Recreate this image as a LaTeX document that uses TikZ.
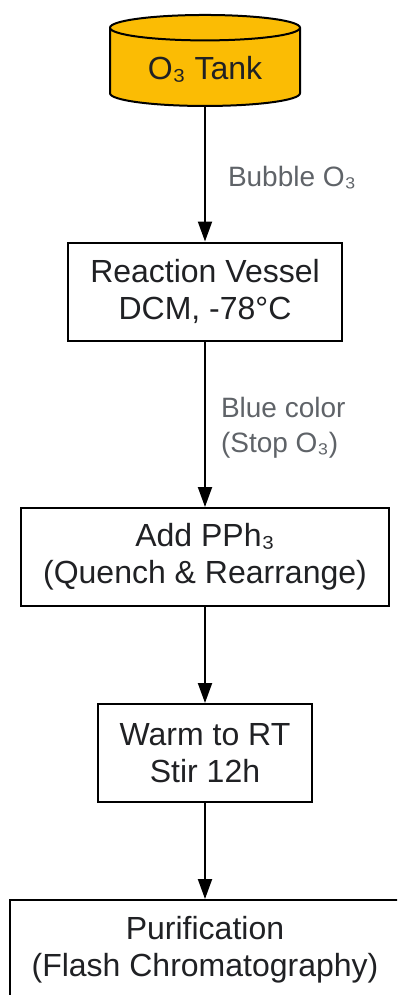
\documentclass[tikz,border=0pt]{standalone}
\usepackage{fontspec}
\setmainfont{Liberation Sans}
\usetikzlibrary{shapes.geometric,arrows.meta,positioning}
\definecolor{tankfill}{HTML}{FBBC04}
\definecolor{stepink}{HTML}{202124}
\definecolor{labelink}{HTML}{5F6368}

\begin{document}
\begin{tikzpicture}[x=1pt,y=1pt,node distance=2cm,on grid,
    stage/.style={draw,line width=2pt,fill=white,inner xsep=22pt,minimum height=98pt,
      align=center,text=stepink,font=\fontsize{32}{37}\selectfont},
    tank/.style={cylinder,shape border rotate=90,aspect=0.21,draw,line width=2pt,
      fill=tankfill,minimum width=190pt,minimum height=91pt,text=stepink,
      font=\fontsize{32}{37}\selectfont},
    flow/.style={-{Triangle[length=20pt,width=14pt]},line width=2pt},
    note/.style={right=18pt,yshift=-3.5pt,inner sep=0pt,align=left,text=labelink,
      font=\fontsize{28}{35}\selectfont}]
  \useasboundingbox[clip] (0,0) rectangle (397,-995);
  \node[tank] (tank) at (205,-69) {O₃ Tank};
  \node[stage] (vessel) [below=222.5pt of tank] {Reaction Vessel\\DCM, -78°C};
  \node[stage] (quench) [below=265.5pt of vessel] {Add PPh₃\\(Quench \& Rearrange)};
  \node[stage] (warm) [below=196pt of quench] {Warm to RT\\Stir 12h};
  \node[stage,minimum height=100pt] (purify) [below=197pt of warm] {Purification\\(Flash Chromatography)};
  \path[flow]
    (tank) edge node[note,xshift=4pt] {Bubble O₃} (vessel)
    (vessel) edge node[note,xshift=-3pt] {Blue color\\(Stop O₃)} (quench)
    (quench) edge (warm)
    (warm) edge (purify);
\end{tikzpicture}
\end{document}
